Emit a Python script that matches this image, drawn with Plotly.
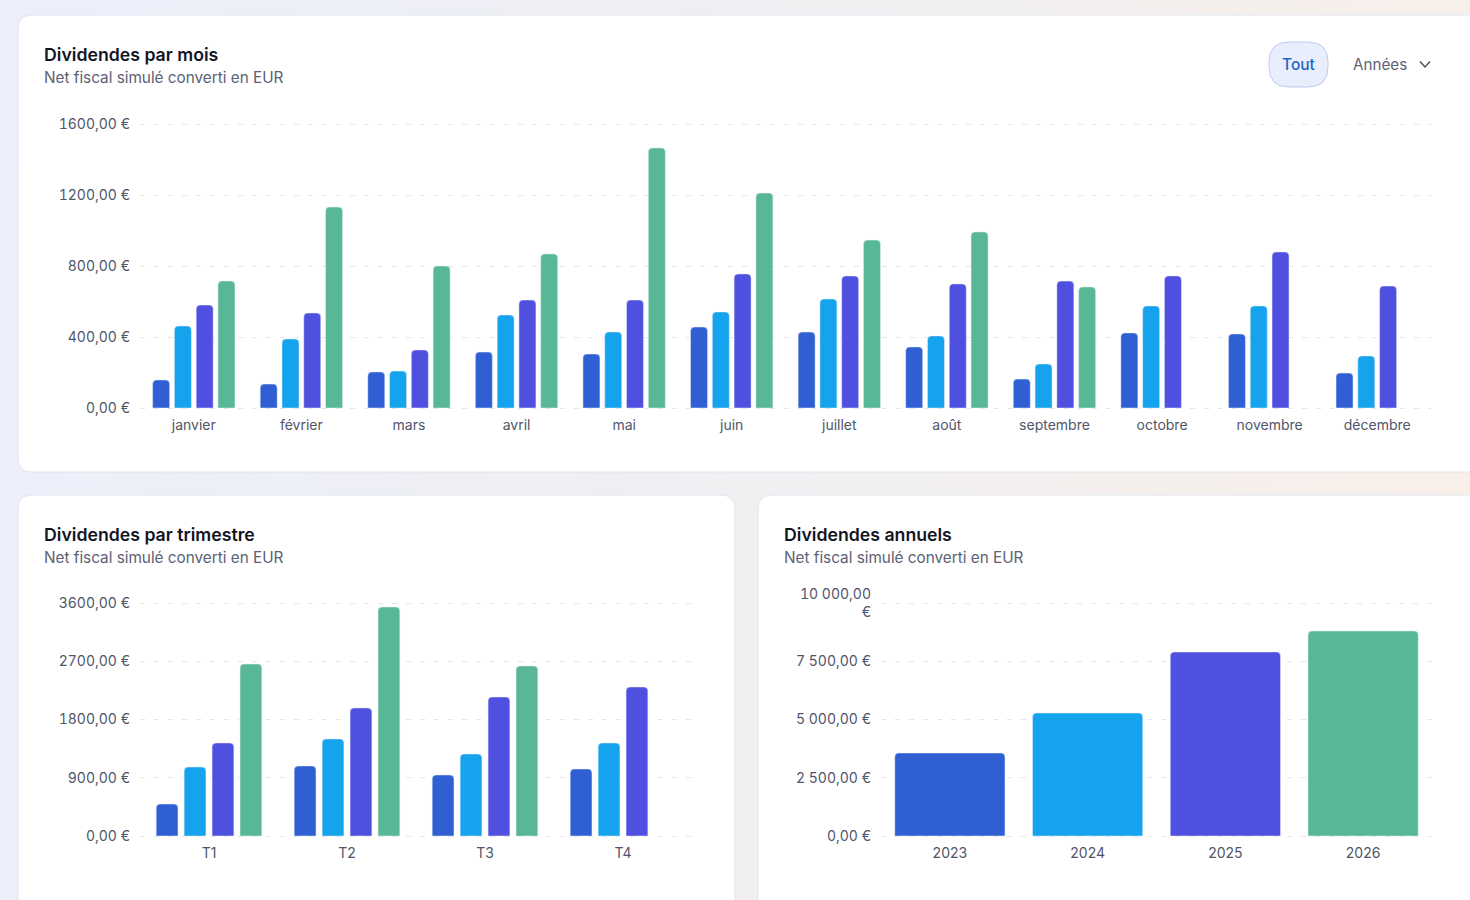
import plotly.graph_objects as go

W, H = 1470, 900

# data
years = ["2023", "2024", "2025", "2026"]
colors = ["#2f5fd3", "#15a3ee", "#4f4fe0", "#58b896"]

months = ["janvier", "février", "mars", "avril", "mai", "juin", "juillet", "août",
          "septembre", "octobre", "novembre", "décembre"]
month_2023 = [158, 135, 203, 315, 304, 456, 428, 344, 163, 423, 417, 197]
month_2024 = [462, 389, 208, 524, 428, 541, 614, 406, 248, 575, 575, 293]
month_2025 = [580, 535, 327, 608, 608, 755, 744, 699, 715, 744, 879, 687]
month_2026 = [715, 1132, 800, 868, 1465, 1211, 946, 992, 682, None, None, None]

quarters = ["T1", "T2", "T3", "T4"]
quarter_2023 = [494, 1082, 943, 1035]
quarter_2024 = [1066, 1499, 1267, 1437]
quarter_2025 = [1437, 1978, 2148, 2302]
quarter_2026 = [2657, 3538, 2627, None]

annual_totals = [3562, 5279, 7897, 8798]

month_ticks = [0, 400, 800, 1200, 1600]
month_labels = ["0,00 €", "400,00 €", "800,00 €", "1200,00 €", "1600,00 €"]
quarter_ticks = [0, 900, 1800, 2700, 3600]
quarter_labels = ["0,00 €", "900,00 €", "1800,00 €", "2700,00 €", "3600,00 €"]
annual_ticks = [0, 2500, 5000, 7500, 10000]
annual_labels = ["0,00 €", "2 500,00 €", "5 000,00 €", "7 500,00 €", "10 000,00<br>€"]

FONT = "Inter"
TICK_COLOR = "#50556a"


def px(x):
    return x / W


def py(y):
    return 1 - y / H


def card(x0, y0, x1, y1, r=14):
    # rounded card, pixel coords from top left
    path = (f"M {px(x0)} {py(y0 + r)} Q {px(x0)} {py(y0)} {px(x0 + r)} {py(y0)} "
            f"L {px(x1 - r)} {py(y0)} Q {px(x1)} {py(y0)} {px(x1)} {py(y0 + r)} "
            f"L {px(x1)} {py(y1 - r)} Q {px(x1)} {py(y1)} {px(x1 - r)} {py(y1)} "
            f"L {px(x0 + r)} {py(y1)} Q {px(x0)} {py(y1)} {px(x0)} {py(y1 - r)} Z")
    return dict(type="path", path=path, xref="paper", yref="paper", layer="below",
                fillcolor="#ffffff", line=dict(color="#e2e4ec", width=1))


def label(x, y, text, size, color, weight=400, anchor="left"):
    return dict(x=px(x), y=py(y), xref="paper", yref="paper", text=text, showarrow=False,
                xanchor=anchor, yanchor="middle", align=anchor, borderpad=0, borderwidth=0,
                font=dict(family=FONT, size=size, color=color, weight=weight))


def axes(x0, x1, y0, y1, vals, texts, top):
    # 2px of slack on the value range, plotly drops gridlines sitting right on the ends
    unit = top / (y1 - y0)
    xa = dict(domain=[px(x0), px(x1)], type="category", showgrid=False, showline=False,
              zeroline=False, ticks="", automargin=False, ticklabelstandoff=5,
              tickfont=dict(family=FONT, size=14, color=TICK_COLOR))
    ya = dict(domain=[py(y1 + 2), py(y0 - 2)], range=[-2 * unit, top + 2 * unit],
              tickmode="array", tickvals=vals,
              ticktext=texts, showline=False, zeroline=False, ticks="", ticklabelstandoff=9,
              automargin=False, gridcolor="#e4e6eb", griddash="5px,9px", gridwidth=1,
              tickfont=dict(family=FONT, size=14, color=TICK_COLOR))
    return xa, ya


fig = go.Figure()

month_series = [month_2023, month_2024, month_2025, month_2026]
for name, vals, c in zip(years, month_series, colors):
    fig.add_trace(go.Bar(x=months, y=vals, name=name, marker=dict(color=c, cornerradius=4),
                         xaxis="x", yaxis="y"))

quarter_series = [quarter_2023, quarter_2024, quarter_2025, quarter_2026]
for name, vals, c in zip(years, quarter_series, colors):
    fig.add_trace(go.Bar(x=quarters, y=vals, name=name, marker=dict(color=c, cornerradius=4),
                         xaxis="x2", yaxis="y2"))

fig.add_trace(go.Bar(x=years, y=annual_totals, marker=dict(color=colors, cornerradius=4),
                     width=0.8, xaxis="x3", yaxis="y3"))

x1a, y1a = axes(140, 1431, 124, 408, month_ticks, month_labels, 1600)
x2a, y2a = axes(140, 692, 603, 836, quarter_ticks, quarter_labels, 3600)
x3a, y3a = axes(881, 1432, 603, 836, annual_ticks, annual_labels, 10000)
y1a["anchor"], y2a["anchor"], y3a["anchor"] = "x", "x2", "x3"
x1a["anchor"], x2a["anchor"], x3a["anchor"] = "y", "y2", "y3"

sub = "Net fiscal simulé converti en EUR"
notes = [
    label(44, 54, "Dividendes par mois", 17.7, "#12141f", 600),
    label(44, 77, sub, 15.3, "#5c6175"),
    label(44, 534, "Dividendes par trimestre", 17.7, "#12141f", 600),
    label(44, 557, sub, 15.3, "#5c6175"),
    label(784, 534, "Dividendes annuels", 17.7, "#12141f", 600),
    label(784, 557, sub, 15.3, "#5c6175"),
    label(1298, 64, "Tout", 15.5, "#2563c9", 450, "center"),
    label(1353, 64, "Années", 15.2, "#5c6175"),
]

shapes = [
    card(18, 15, 1490, 472),
    card(18, 495, 735, 930),
    card(758, 495, 1490, 930),
    # Tout button and the chevron of the Années selector
    {**card(1269, 42, 1328, 87, r=20), "fillcolor": "#e8eefb",
     "line": dict(color="#bccbf0", width=1)},
    dict(type="path", xref="paper", yref="paper",
         path=f"M {px(1420)} {py(61.5)} L {px(1425)} {py(67)} L {px(1430)} {py(61.5)}",
         line=dict(color="#4b5063", width=1.5)),
]

fig.update_layout(
    width=W, height=H,
    margin=dict(l=0, r=0, t=0, b=0),
    paper_bgcolor="rgba(0,0,0,0)",
    plot_bgcolor="rgba(0,0,0,0)",
    showlegend=False,
    barmode="group",
    bargap=0.19,
    bargroupgap=0.22,
    font=dict(family=FONT),
    xaxis=x1a, yaxis=y1a,
    xaxis2=x2a, yaxis2=y2a,
    xaxis3=x3a, yaxis3=y3a,
    shapes=shapes,
    annotations=notes,
)

page_css = ("document.body.style.margin='0';document.body.style.overflow='hidden';"
            "document.body.style.background='linear-gradient(100deg,#eceffb 0%,#f0eff2 50%,#f9efe8 100%)';"
            "var st=document.createElement('style');"
            "st.textContent='.ytick text,.y2tick text,.y3tick text{font-feature-settings:\"tnum\" 1}';"
            "document.head.appendChild(st);")
fig.write_html("out.html", post_script=page_css, config=dict(displayModeBar=False))
